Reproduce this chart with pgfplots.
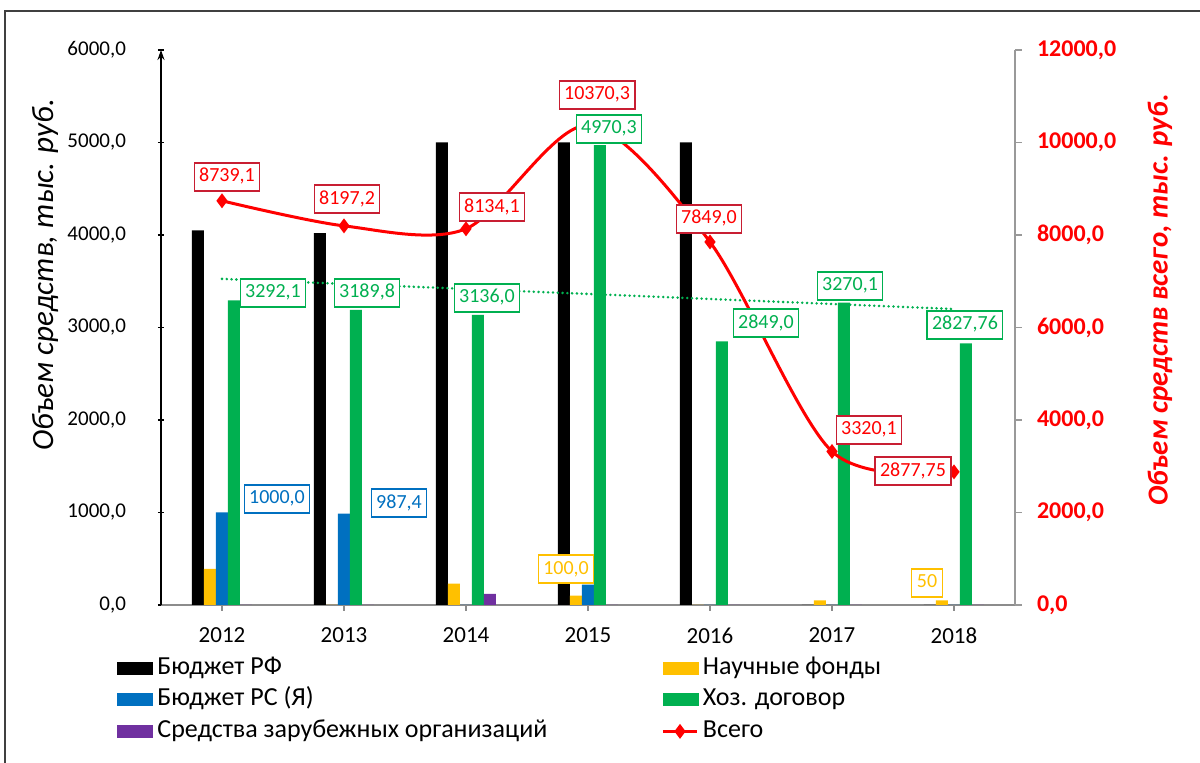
\documentclass[border=0pt]{standalone}
\usepackage{fontspec}
\setmainfont{Carlito}
\usepackage{pgfplots}
\usepackage{pgfplotstable}
\pgfplotsset{compat=1.18}
\usetikzlibrary{arrows.meta}

\definecolor{cRF}{RGB}{0,0,0}
\definecolor{cFond}{RGB}{255,192,0}
\definecolor{cRS}{RGB}{0,112,192}
\definecolor{cDog}{RGB}{0,176,80}
\definecolor{cZar}{RGB}{112,48,160}
\definecolor{cTot}{RGB}{255,0,0}
\definecolor{cTotBox}{RGB}{200,30,50}

% year index, budgets (thousand rub.)
\pgfplotstableread{
x  rf    fond  rs     dog      zar  total
0  4050  390   1000   3292.1   0    8739.1
1  4020  0     987.4  3189.8   0    8197.2
2  5000  230   0      3136.0   120  8134.1
3  5000  100   220    4970.3   0    10370.3
4  5000  0     0      2849.0   0    7849.0
5  0     50    0      3270.1   0    3320.1
6  0     50    0      2827.76  0    2877.75
}\fundtable

\tikzset{
  lbl/.style={draw=#1, fill=white, text=#1, line width=0.6pt,
    inner xsep=2.5pt, inner ysep=2.5pt, text height=7pt, text depth=2pt,
    font=\fontsize{10}{12}\selectfont},
}
\pgfplotsset{
  fundbar/.style={ybar, bar width=6pt, draw=none, fill=#1,
    legend image code/.code={\fill[##1] (0pt,-3.25pt) rectangle (18pt,3.25pt);}},
  fundaxis/.style={
    scale only axis, width=427pt, height=277.5pt,
    at={(0pt,0pt)}, anchor=south west,
    xmin=-0.5, xmax=6.5,
    tick align=outside,
    scaled y ticks=false,
    /pgf/number format/assume math mode=true,
    /pgf/number format/fixed,
    /pgf/number format/fixed zerofill,
    /pgf/number format/precision=1,
    /pgf/number format/use comma,
    /pgf/number format/1000 sep={},
  },
}

\begin{document}
\begin{tikzpicture}
\path[use as bounding box] (-80.5pt,-79pt) rectangle (519.5pt,302.5pt);

\begin{axis}[
  fundaxis,
  ymin=0, ymax=6000,
  axis y line=left, axis x line*=bottom,
  y axis line style={black, line width=0.6pt, -{Stealth[length=5pt,width=3.5pt]}},
  x axis line style={black!45, line width=0.8pt},
  xtick={0,...,6},
  xticklabels={2012,2013,2014,2015,2016,2017,2018},
  ytick={0,1000,...,6000},
  major tick length=3pt,
  xtick style={black!45, line width=0.8pt},
  ytick style={black, line width=0.6pt},
  xticklabel style={font=\fontsize{11.5}{13}\selectfont, yshift=-5pt},
  yticklabel style={font=\fontsize{10.5}{12}\selectfont, xshift=-12.5pt},
  ylabel={Объем средств, тыс. руб.},
  ylabel style={at={(axis description cs:-0.1358,0.5946)}, anchor=center,
    font=\itshape\fontsize{15.5}{17}\selectfont},
  legend columns=2,
  legend cell align=left,
  legend style={at={(axis description cs:-0.0515,-0.0865)}, anchor=north west,
    draw=none, fill=none, inner sep=0pt, row sep=0.75pt,
    font=\fontsize{13}{15}\selectfont,
    nodes={inner ysep=1.5pt, text height=9pt, text depth=3pt},
    /tikz/every even column/.append style={column sep=0pt}},
]
\addplot[fundbar=cRF, bar shift=-12pt] table[x=x, y=rf] {\fundtable};
\addplot[fundbar=cFond, bar shift=-6pt] table[x=x, y=fond] {\fundtable};
\addplot[fundbar=cRS, bar shift=0pt] table[x=x, y=rs] {\fundtable};
\addplot[fundbar=cDog, bar shift=6pt] table[x=x, y=dog] {\fundtable};
\addplot[fundbar=cZar, bar shift=12pt] table[x=x, y=zar] {\fundtable};
% linear trend of the contract series
\addplot[cDog, line width=1.4pt, line cap=round, dash pattern=on 0pt off 2.4pt, forget plot]
  coordinates {(0,3525.4) (6,3199.8)};
\addlegendimage{line legend, cTot, line width=1.5pt, mark=diamond*, mark size=2.5pt}
\legend{\makebox[250pt][l]{Бюджет РФ}, Научные фонды,
  \makebox[250pt][l]{Бюджет РС (Я)}, Хоз. договор,
  \makebox[250pt][l]{Средства зарубежных организаций}, Всего}
\end{axis}

\begin{axis}[
  fundaxis,
  ymin=0, ymax=12000,
  axis y line*=right, axis x line=none,
  y axis line style={black!40, line width=0.8pt},
  ytick={0,2000,...,12000},
  major tick length=3.5pt,
  ytick style={black!40, line width=0.8pt},
  yticklabel style={text=cTot, font=\bfseries\fontsize{12}{14}\selectfont, xshift=4pt},
  ylabel={Объем средств всего, тыс. руб.},
  ylabel style={at={(axis description cs:1.1698,0.5495)}, anchor=center,
    text=cTot, font=\bfseries\itshape\fontsize{14.5}{17}\selectfont},
  clip=false,
  clip marker paths=true,
]
\addplot[cTot, line width=1.5pt, smooth, mark=diamond*, mark size=2.5pt]
  table[x=x, y=total] {\fundtable};

% data labels
\node[lbl=cTotBox, text=cTot] at (axis cs:0.041,9254) {8739,1};
\node[lbl=cTotBox, text=cTot] at (axis cs:1.025,8778) {8197,2};
\node[lbl=cTotBox, text=cTot] at (axis cs:2.213,8605) {8134,1};
\node[lbl=cTotBox, text=cTot] at (axis cs:3.074,11027) {10370,3};
\node[lbl=cTotBox, text=cTot] at (axis cs:3.992,8346) {7849,0};
\node[lbl=cTotBox, text=cTot] at (axis cs:5.303,3784) {3320,1};
\node[lbl=cTotBox, text=cTot] at (axis cs:5.664,2897) {2877,75};

\node[lbl=cDog] at (axis cs:0.418,6746) {3292,1};
\node[lbl=cDog] at (axis cs:1.189,6746) {3189,8};
\node[lbl=cDog] at (axis cs:2.172,6638) {3136,0};
\node[lbl=cDog] at (axis cs:3.172,10292) {4970,3};
\node[lbl=cDog] at (axis cs:4.459,6097) {2849,0};
\node[lbl=cDog] at (axis cs:5.148,6897) {3270,1};
\node[lbl=cDog] at (axis cs:6.09,6054) {2827,76};

\node[lbl=cRS] at (axis cs:0.451,2292) {1000,0};
\node[lbl=cRS] at (axis cs:1.451,2205) {987,4};

\node[lbl=cFond] at (axis cs:2.820,778) {100,0};
\node[lbl=cFond] at (axis cs:5.779,476) {50};
\end{axis}

\draw[black!75, line width=1pt] (-78pt,-80pt) -- (-78pt,297pt) -- (521pt,297pt);
\end{tikzpicture}
\end{document}
